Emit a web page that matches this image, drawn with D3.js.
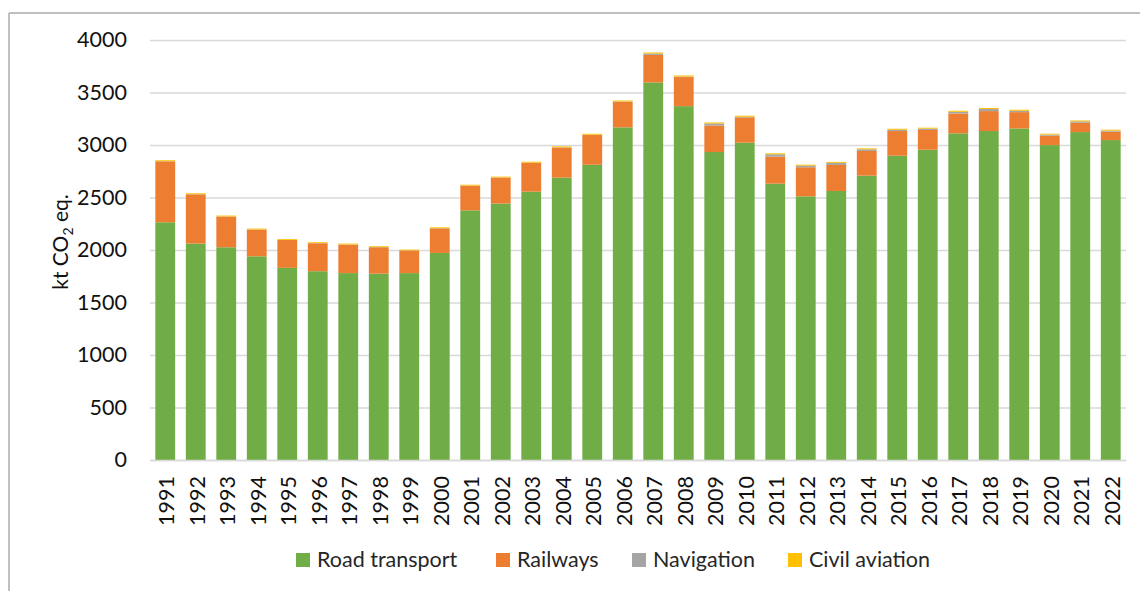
<!DOCTYPE html>
<html>
<head>
<meta charset="utf-8">
<script src="https://cdn.jsdelivr.net/npm/d3@7"></script>
<style>
  body { margin: 0; background: #fff; }
  svg { display: block; font-family: Lato, 'Open Sans', sans-serif; }
</style>
</head>
<body>
<svg class="chartContainer" width="1140" height="591" viewBox="0 0 1140 591"></svg>
<script>
// values, kt CO2 eq.
const years = ['1991', '1992', '1993', '1994', '1995', '1996', '1997', '1998', '1999', '2000',
  '2001', '2002', '2003', '2004', '2005', '2006', '2007', '2008', '2009', '2010',
  '2011', '2012', '2013', '2014', '2015', '2016', '2017', '2018', '2019', '2020', '2021', '2022']
const roadTransport = [2264, 2061, 2026, 1940, 1830, 1798, 1780, 1775, 1780, 1972,
  2378, 2442, 2556, 2689, 2812, 3168, 3596, 3370, 2933, 3022,
  2632, 2511, 2562, 2708, 2898, 2955, 3111, 3133, 3158, 2999, 3123, 3047]
const railways = [580, 469, 292, 254, 265, 266, 271, 251, 214, 234,
  234, 247, 274, 286, 283, 243, 262, 277, 253, 241,
  257, 277, 248, 235, 235, 188, 189, 190, 155, 90, 89, 80]
const navigation = [2, 2, 2, 2, 2, 2, 2, 2, 2, 2,
  2, 2, 2, 3, 3, 4, 13, 5, 19, 6,
  22, 16, 20, 16, 13, 13, 16, 20, 13, 10, 13, 10]
const civilAviation = [9, 8, 8, 8, 8, 8, 8, 8, 8, 8,
  8, 8, 9, 9, 9, 9, 10, 10, 10, 10,
  10, 9, 9, 9, 9, 9, 10, 10, 10, 8, 9, 9]
const yTicks = [0, 500, 1000, 1500, 2000, 2500, 3000, 3500, 4000]

const seriesNames = ['Road transport', 'Railways', 'Navigation', 'Civil aviation']
const seriesValues = [roadTransport, railways, navigation, civilAviation]
const colors = ['#70AD47', '#ED7D31', '#A5A5A5', '#FFC000']

const plot = { left: 150, right: 1126, top: 40, bottom: 460 }
const fontSize = '21.5px'

const svg = d3.select('svg.chartContainer')

// outer frame (only top and left edges show in the picture)
svg.append('line')
  .attr('x1', 9).attr('x2', 1140).attr('y1', 13).attr('y2', 13)
  .attr('stroke', '#C0C0C0').attr('stroke-width', 2)
svg.append('line')
  .attr('x1', 9).attr('x2', 9).attr('y1', 13).attr('y2', 591)
  .attr('stroke', '#C0C0C0').attr('stroke-width', 2)

const table = years.map((year, i) => {
  const row = { year }
  seriesNames.forEach((name, j) => { row[name] = seriesValues[j][i] })
  return row
})

const x = d3.scaleBand()
  .domain(years)
  .range([plot.left, plot.right])
  .paddingInner(0.35)
  .paddingOuter(0.175)

const y = d3.scaleLinear()
  .domain([0, 4000])
  .range([plot.bottom, plot.top])

// Gridlines + y labels
const yAxisG = svg.append('g')
  .attr('transform', `translate(${plot.left}, 0)`)
  .call(d3.axisLeft(y)
    .tickValues(yTicks)
    .tickFormat(d3.format('d'))
    .tickSize(-(plot.right - plot.left))
    .tickPadding(23))
yAxisG.select('.domain').remove()
yAxisG.selectAll('.tick line').attr('stroke', '#D9D9D9').attr('stroke-width', 1.5)
yAxisG.selectAll('.tick text')
  .attr('fill', '#111')
  .style('font-size', fontSize)
  .style('font-family', 'Lato, sans-serif')

// Stacked bars
const stack = d3.stack().keys(seriesNames)(table)
svg.append('g')
  .selectAll('g')
  .data(stack)
  .join('g')
  .attr('fill', (d, i) => colors[i])
  .selectAll('rect')
  .data(d => d)
  .join('rect')
  .attr('x', d => x(d.data.year))
  .attr('width', x.bandwidth())
  .attr('y', d => y(d[1]))
  .attr('height', d => y(d[0]) - y(d[1]))

// X axis
const xAxisG = svg.append('g')
  .attr('transform', `translate(0, ${plot.bottom})`)
  .call(d3.axisBottom(x).tickSize(0))
xAxisG.select('.domain').attr('stroke', '#D9D9D9').attr('stroke-width', 1.5)
xAxisG.selectAll('.tick text')
  .attr('fill', '#111')
  .style('font-size', fontSize)
  .style('font-family', 'Lato, sans-serif')
  .attr('text-anchor', 'end')
  .attr('transform', 'rotate(-90)')
  .attr('x', -16)
  .attr('y', 1.5)
  .attr('dy', '0.35em')

// Y axis title
const yTitle = svg.append('text')
  .attr('transform', 'translate(68, 242) rotate(-90)')
  .attr('text-anchor', 'middle')
  .attr('fill', '#111')
  .style('font-size', '21px')
yTitle.append('tspan').text('kt CO')
yTitle.append('tspan').text('2').style('font-size', '14px').attr('dy', 5)
yTitle.append('tspan').text(' eq.').attr('dy', -5)

// Legend
const legendX = [296, 496, 632, 788]
const legend = svg.append('g')
  .selectAll('g')
  .data(seriesNames)
  .join('g')
  .attr('transform', (d, i) => `translate(${legendX[i]}, 553)`)
legend.append('rect')
  .attr('width', 14)
  .attr('height', 14)
  .attr('fill', (d, i) => colors[i])
legend.append('text')
  .attr('x', 21)
  .attr('y', 14)
  .style('font-size', fontSize)
  .attr('fill', '#262626')
  .text(d => d)
</script>
</body>
</html>
